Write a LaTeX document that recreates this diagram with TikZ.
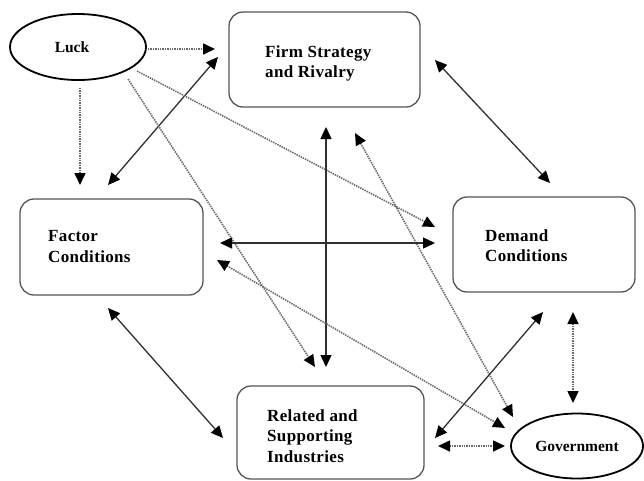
\documentclass[tikz,border=0pt]{standalone}
\usepackage{fontspec}
\setmainfont{Liberation Serif}
\usetikzlibrary{arrows.meta,shapes.geometric}
\definecolor{boxgray}{HTML}{555555}
\definecolor{solidgray}{HTML}{303030}
\definecolor{dotgray}{HTML}{686868}
\tikzset{
  box/.style={draw=boxgray, line width=1.3pt, rounded corners=14pt, inner sep=0pt},
  oval/.style={draw=black, ellipse, line width=1.8pt, inner sep=0pt},
  boxtext/.style={anchor=north west, inner sep=0pt, align=left,
    font=\addfontfeatures{LetterSpace=2}\bfseries\fontsize{17}{20.5}\selectfont},
  ovaltext/.style={font=\bfseries\fontsize{15.5}{20}\selectfont},
  tip/.tip={Triangle[length=12pt,width=11pt,color=black,fill=black]},
  solidarrow/.style={draw=solidgray, line width=1.3pt},
  dotarrow/.style={draw=dotgray, line width=1.6pt, dash pattern=on 1.4pt off 1.0pt},
}
\begin{document}
\begin{tikzpicture}[x=1pt,y=-1pt]
\useasboundingbox (0,0) rectangle (644,480);
% nodes
\node[oval, minimum width=136pt, minimum height=66pt] (luck) at (78,47) {};
\node[ovaltext] (luckt) at (72,47) {Luck};
\node[box, minimum width=191pt, minimum height=95pt] (firm) at (324.5,59.5) {};
\node[boxtext] (firmt) at (265,45.3) {Firm Strategy\\and Rivalry};
\node[box, minimum width=183pt, minimum height=96pt] (factor) at (111.5,247) {};
\node[boxtext] (factort) at (48,230.3) {Factor\\Conditions};
\node[box, minimum width=182pt, minimum height=95pt] (demand) at (544,244.5) {};
\node[boxtext] (demandt) at (485,229.3) {Demand\\Conditions};
\node[box, minimum width=187pt, minimum height=93pt] (related) at (330.5,432.5) {};
\node[boxtext] (relatedt) at (267,409.3) {Related and\\Supporting\\Industries};
\node[oval, minimum width=132pt, minimum height=65pt, ovaltext] (gov) at (577,446) {Government};
% connector end points
\coordinate (lf1) at (148,49);  \coordinate (lf2) at (215,49);
\coordinate (lc1) at (80,88);   \coordinate (lc2) at (80,185);
\coordinate (fc1) at (218,57);  \coordinate (fc2) at (108,185);
\coordinate (ld1) at (137,71);  \coordinate (ld2) at (435,227);
\coordinate (lr1) at (128,79);  \coordinate (lr2) at (315,367);
\coordinate (fr1) at (326,127); \coordinate (fr2) at (326,367);
\coordinate (fd1) at (435,60);  \coordinate (fd2) at (550,183);
\coordinate (fg1) at (355,133); \coordinate (fg2) at (513,417);
\coordinate (cd1) at (220,243); \coordinate (cd2) at (435,243);
\coordinate (cg1) at (217,260); \coordinate (cg2) at (505,428);
\coordinate (cr1) at (108,308); \coordinate (cr2) at (223,438);
\coordinate (dr1) at (543,312); \coordinate (dr2) at (435,438);
\coordinate (dg1) at (573,312); \coordinate (dg2) at (573,403);
\coordinate (rg1) at (438,446); \coordinate (rg2) at (505,446);
% connectors
\draw[dotarrow, -tip] (lf1) -- (lf2);
\draw[dotarrow, -tip] (lc1) -- (lc2);
\draw[solidarrow, tip-tip] (fc1) -- (fc2);
\draw[dotarrow, -tip] (ld1) -- (ld2);
\draw[dotarrow, -tip] (lr1) -- (lr2);
\draw[solidarrow, tip-tip] (fr1) -- (fr2);
\draw[solidarrow, tip-tip] (fd1) -- (fd2);
\draw[dotarrow, tip-tip] (fg1) -- (fg2);
\draw[solidarrow, tip-tip] (cd1) -- (cd2);
\draw[dotarrow, tip-tip] (cg1) -- (cg2);
\draw[solidarrow, tip-tip] (cr1) -- (cr2);
\draw[solidarrow, tip-tip] (dr1) -- (dr2);
\draw[dotarrow, tip-tip] (dg1) -- (dg2);
\draw[dotarrow, tip-tip] (rg1) -- (rg2);
\end{tikzpicture}
\end{document}
